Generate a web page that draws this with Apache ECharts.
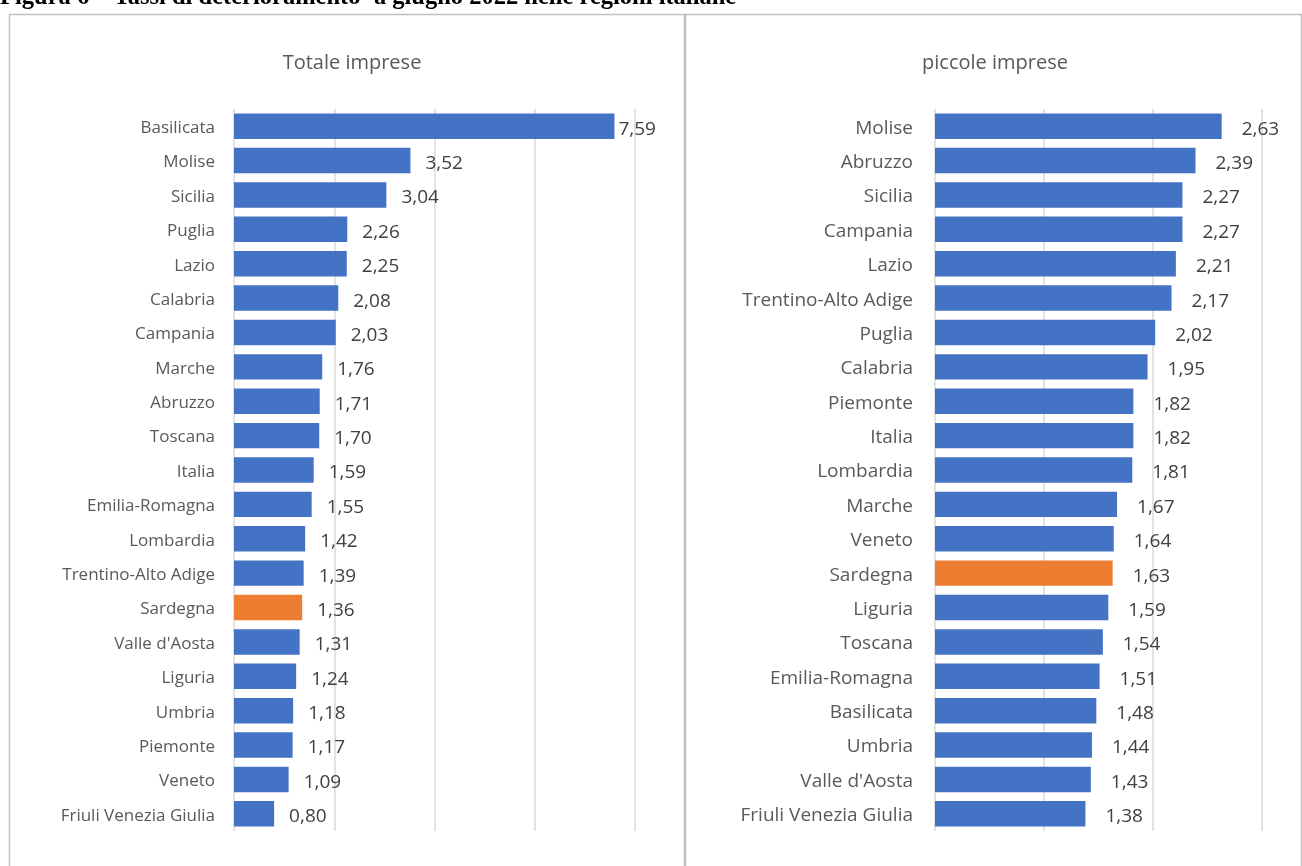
<!DOCTYPE html>
<html><head><meta charset="utf-8">
<script src="https://cdn.jsdelivr.net/npm/echarts@6/dist/echarts.min.js"></script>
<style>html,body{margin:0;padding:0;background:#fff;}#c{width:1302px;height:866px;}</style>
</head><body><div id="c"></div>
<script>
const totCategories = ["Basilicata","Molise","Sicilia","Puglia","Lazio","Calabria","Campania","Marche","Abruzzo","Toscana","Italia","Emilia-Romagna","Lombardia","Trentino-Alto Adige","Sardegna","Valle d'Aosta","Liguria","Umbria","Piemonte","Veneto","Friuli Venezia Giulia"];
const totValues = [7.59,3.52,3.04,2.26,2.25,2.08,2.03,1.76,1.71,1.70,1.59,1.55,1.42,1.39,1.36,1.31,1.24,1.18,1.17,1.09,0.80];
const picCategories = ["Molise","Abruzzo","Sicilia","Campania","Lazio","Trentino-Alto Adige","Puglia","Calabria","Piemonte","Italia","Lombardia","Marche","Veneto","Sardegna","Liguria","Toscana","Emilia-Romagna","Basilicata","Umbria","Valle d'Aosta","Friuli Venezia Giulia"];
const picValues = [2.63,2.39,2.27,2.27,2.21,2.17,2.02,1.95,1.82,1.82,1.81,1.67,1.64,1.63,1.59,1.54,1.51,1.48,1.44,1.43,1.38];
const highlight = "Sardegna";
const titles = ["Totale imprese","piccole imprese"];
const figTitle = "Figura 6 – Tassi di deterioramento¹ a giugno 2022 nelle regioni italiane";

const FONT = "'Open Sans', sans-serif";
function mk(cats, vals){
  return cats.map((c,i)=>({value: vals[i], itemStyle:{color: c===highlight ? '#ED7D31' : '#4472C4'}}));
}
const leftData = mk(totCategories, totValues);
leftData[0].label = {distance: 4};
const rightData = mk(picCategories, picValues);

const chart = echarts.init(document.getElementById('c'));
const fmt = p => p.value.toFixed(2).replace('.', ',');
const catFmt = v => '{a|' + v + '}';
chart.setOption({
  animation:false,
  title:[
    {text: titles[0], left: 347, top: 48, textAlign:'center', textStyle:{fontFamily:FONT, fontSize:20, fontWeight:'normal', color:'#595959'}},
    {text: titles[1], left: 990, top: 48, textAlign:'center', textStyle:{fontFamily:FONT, fontSize:20, fontWeight:'normal', color:'#595959'}}
  ],
  graphic:[
    {type:'text', left:0, top:-15, style:{text: figTitle, font:"bold 24.5px 'Liberation Serif', 'DejaVu Serif', serif", fill:'#000'}},
    {type:'rect', shape:{x:9.5, y:14.5, width:675, height:900}, style:{fill:'none', stroke:'#bfbfbf', lineWidth:1.5}},
    {type:'rect', shape:{x:685.5, y:14.5, width:616, height:900}, style:{fill:'none', stroke:'#bfbfbf', lineWidth:1.5}}
  ],
  grid:[
    {left:234, width:401, top:109, height:722},
    {left:935, width:327, top:109, height:722}
  ],
  xAxis:[
    {gridIndex:0, type:'value', min:0, max:8, interval:2, axisLabel:{show:false}, axisLine:{show:false}, axisTick:{show:false}, splitLine:{lineStyle:{color:'#d9d9d9', width:1.5}}},
    {gridIndex:1, type:'value', min:0, max:3, interval:1, axisLabel:{show:false}, axisLine:{show:false}, axisTick:{show:false}, splitLine:{lineStyle:{color:'#d9d9d9', width:1.5}}}
  ],
  yAxis:[
    {gridIndex:0, type:'category', inverse:true, data: totCategories, axisLine:{show:false}, axisTick:{show:false}, axisLabel:{margin:19, formatter:catFmt, rich:{a:{padding:[4,0,0,0], fontFamily:FONT, fontSize:17, color:'#595959'}}}},
    {gridIndex:1, type:'category', inverse:true, data: picCategories, axisLine:{show:false}, axisTick:{show:false}, axisLabel:{margin:22, formatter:catFmt, rich:{a:{padding:[4,0,0,0], fontFamily:FONT, fontSize:19, color:'#595959'}}}}
  ],
  series:[
    {type:'bar', xAxisIndex:0, yAxisIndex:0, data:leftData, barWidth:'74%', label:{show:true, position:'right', distance:15, offset:[0,3], formatter:fmt, fontFamily:FONT, fontSize:19, color:'#404040'}},
    {type:'bar', xAxisIndex:1, yAxisIndex:1, data:rightData, barWidth:'74%', label:{show:true, position:'right', distance:20, offset:[0,3], formatter:fmt, fontFamily:FONT, fontSize:19, color:'#404040'}}
  ]
});
</script></body></html>
